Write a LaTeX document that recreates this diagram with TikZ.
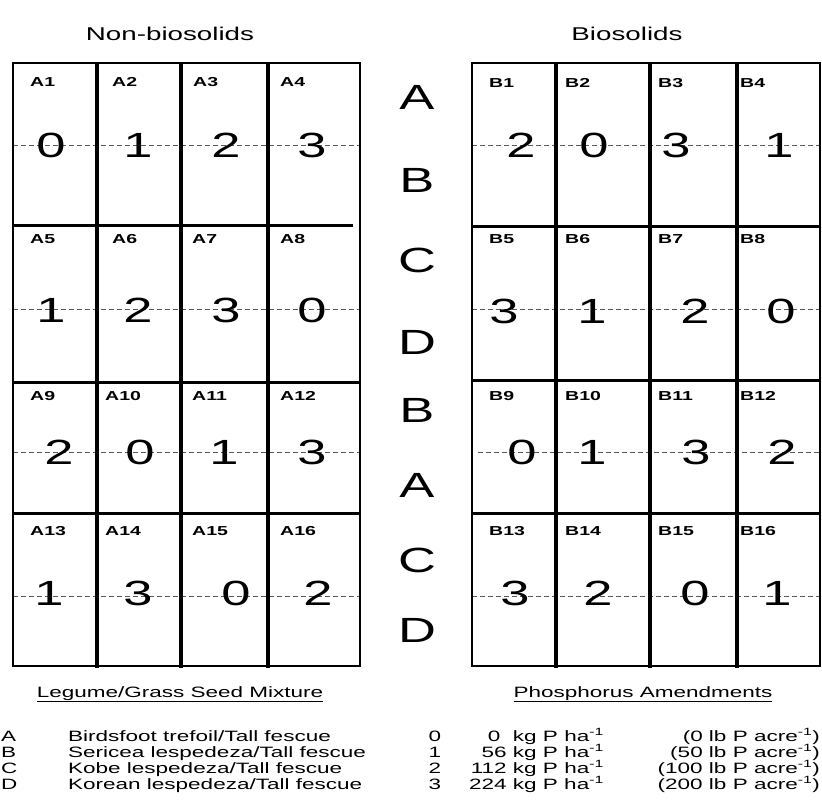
\documentclass[tikz,border=0pt]{standalone}
\usepackage{fontspec}
\setmainfont{Liberation Sans}[FakeStretch=1.5]
\begin{document}
\begin{tikzpicture}[x=1pt,y=-1pt,
  border/.style={line width=2.5pt,line cap=rect},
  colline/.style={line width=4pt},
  rowline/.style={line width=3pt},
  midline/.style={dash pattern=on 5pt off 3pt, line width=0.8pt, draw=black!65},
  digit/.style={font=\fontsize{35}{35}\selectfont, inner sep=0pt},
  rowletter/.style={font=\fontsize{35}{35}\selectfont, inner sep=0pt},
  plotlabel/.style={font=\bfseries\fontsize{13}{13}\selectfont, inner sep=0pt, anchor=west},
  titletext/.style={font=\fontsize{18.5}{18.5}\selectfont, inner sep=0pt, anchor=base},
  legendtext/.style={font=\fontsize{15}{15}\selectfont, inner sep=0pt},
]
\useasboundingbox (0,0) rectangle (822,807);

% titles
\node[titletext] (tleft) at (170,40) {Non-biosolids};
\node[titletext] (tright) at (627,40) {Biosolids};

% dashed mid lines
\foreach \y in {145,309,452,596} \draw[midline] (13,\y) -- (360,\y);
\foreach \y in {145,309,596} \draw[midline] (472,\y) -- (820,\y);
\draw[midline] (478,452) -- (820,452);

% left grid
\draw[border] (13,63) rectangle (360,666);
\foreach \x in {97,181,268} \draw[colline] (\x,63) -- (\x,668);
\draw[rowline] (13,225) -- (353,225);
\draw[rowline] (13,382) -- (360,382);
\draw[rowline] (13,513) -- (360,513);

% right grid
\draw[border] (472,63) rectangle (820,666);
\foreach \x in {556,650,737} \draw[colline] (\x,63) -- (\x,668);
\draw[rowline] (472,226) -- (820,226);
\draw[rowline] (472,380) -- (820,380);
\draw[rowline] (472,513) -- (820,513);

% plot labels left
\foreach \x/\y/\t [count=\i] in {30/82/A1,112/82/A2,193/82/A3,280/82/A4,
  30/239/A5,112/239/A6,192/239/A7,280/239/A8,
  30/396/A9,105/396/A10,192/396/A11,280/396/A12,
  30/531/A13,105/531/A14,192/531/A15,280/531/A16}
  \node[plotlabel] (pa\i) at (\x,\y) {\t};
% plot labels right
\foreach \x/\y/\t [count=\i] in {489/83/B1,565/83/B2,658/83/B3,740/83/B4,
  489/239/B5,565/239/B6,658/239/B7,740/239/B8,
  489/396/B9,565/396/B10,658/396/B11,740/396/B12,
  489/531/B13,565/531/B14,658/531/B15,740/531/B16}
  \node[plotlabel] (pb\i) at (\x,\y) {\t};

% digits left
\foreach \x/\y/\t [count=\i] in {51/145/0,138/145/1,226/145/2,312/145/3,
  51/310/1,138/310/2,226/310/3,312/310/0,
  59/452/2,140/452/0,224/452/1,312/452/3,
  49/593/1,138/593/3,236/593/0,318/593/2}
  \node[digit] (da\i) at (\x,\y) {\t};
% digits right
\foreach \x/\y/\t [count=\i] in {521/145/2,594/145/0,676/145/3,779/145/1,
  504/311/3,592/311/1,695/311/2,781/311/0,
  522/452/0,592/452/1,696/452/3,782/452/2,
  515/593/3,598/593/2,695/593/0,777/593/1}
  \node[digit] (db\i) at (\x,\y) {\t};

% strip letters
\foreach \y/\t [count=\i] in {97/A,180/B,260/C,342/D,410/B,485/A,560/C,630/D}
  \node[rowletter] (s\i) at (417,\y) {\t};

% legend headings
\node[legendtext,anchor=base] (hseed) at (180,697) {\underline{Legume/Grass Seed Mixture}};
\node[legendtext,anchor=base] (hphos) at (643,697) {\underline{Phosphorus Amendments}};

% legend rows
\foreach \y/\l/\d/\n/\kg/\lb [count=\i] in {
  741/A/Birdsfoot trefoil\slash Tall fescue/0/0\ \ kg P ha/(0 lb P acre,
  757/B/Sericea lespedeza\slash Tall fescue/1/56 kg P ha/(50 lb P acre,
  773/C/Kobe lespedeza\slash Tall fescue/2/112 kg P ha/(100 lb P acre,
  789/D/Korean lespedeza\slash Tall fescue/3/224 kg P ha/(200 lb P acre}
{
  \node[legendtext,anchor=base west] (ll\i) at (1,\y) {\l};
  \node[legendtext,anchor=base west] (ld\i) at (68,\y) {\d};
  \node[legendtext,anchor=base] (ln\i) at (435,\y) {\n};
  \node[legendtext,anchor=base east] (lk\i) at (604,\y) {\kg\textsuperscript{-1}};
  \node[legendtext,anchor=base east] (lp\i) at (820,\y) {\lb\textsuperscript{-1})};
}
\end{tikzpicture}
\end{document}
